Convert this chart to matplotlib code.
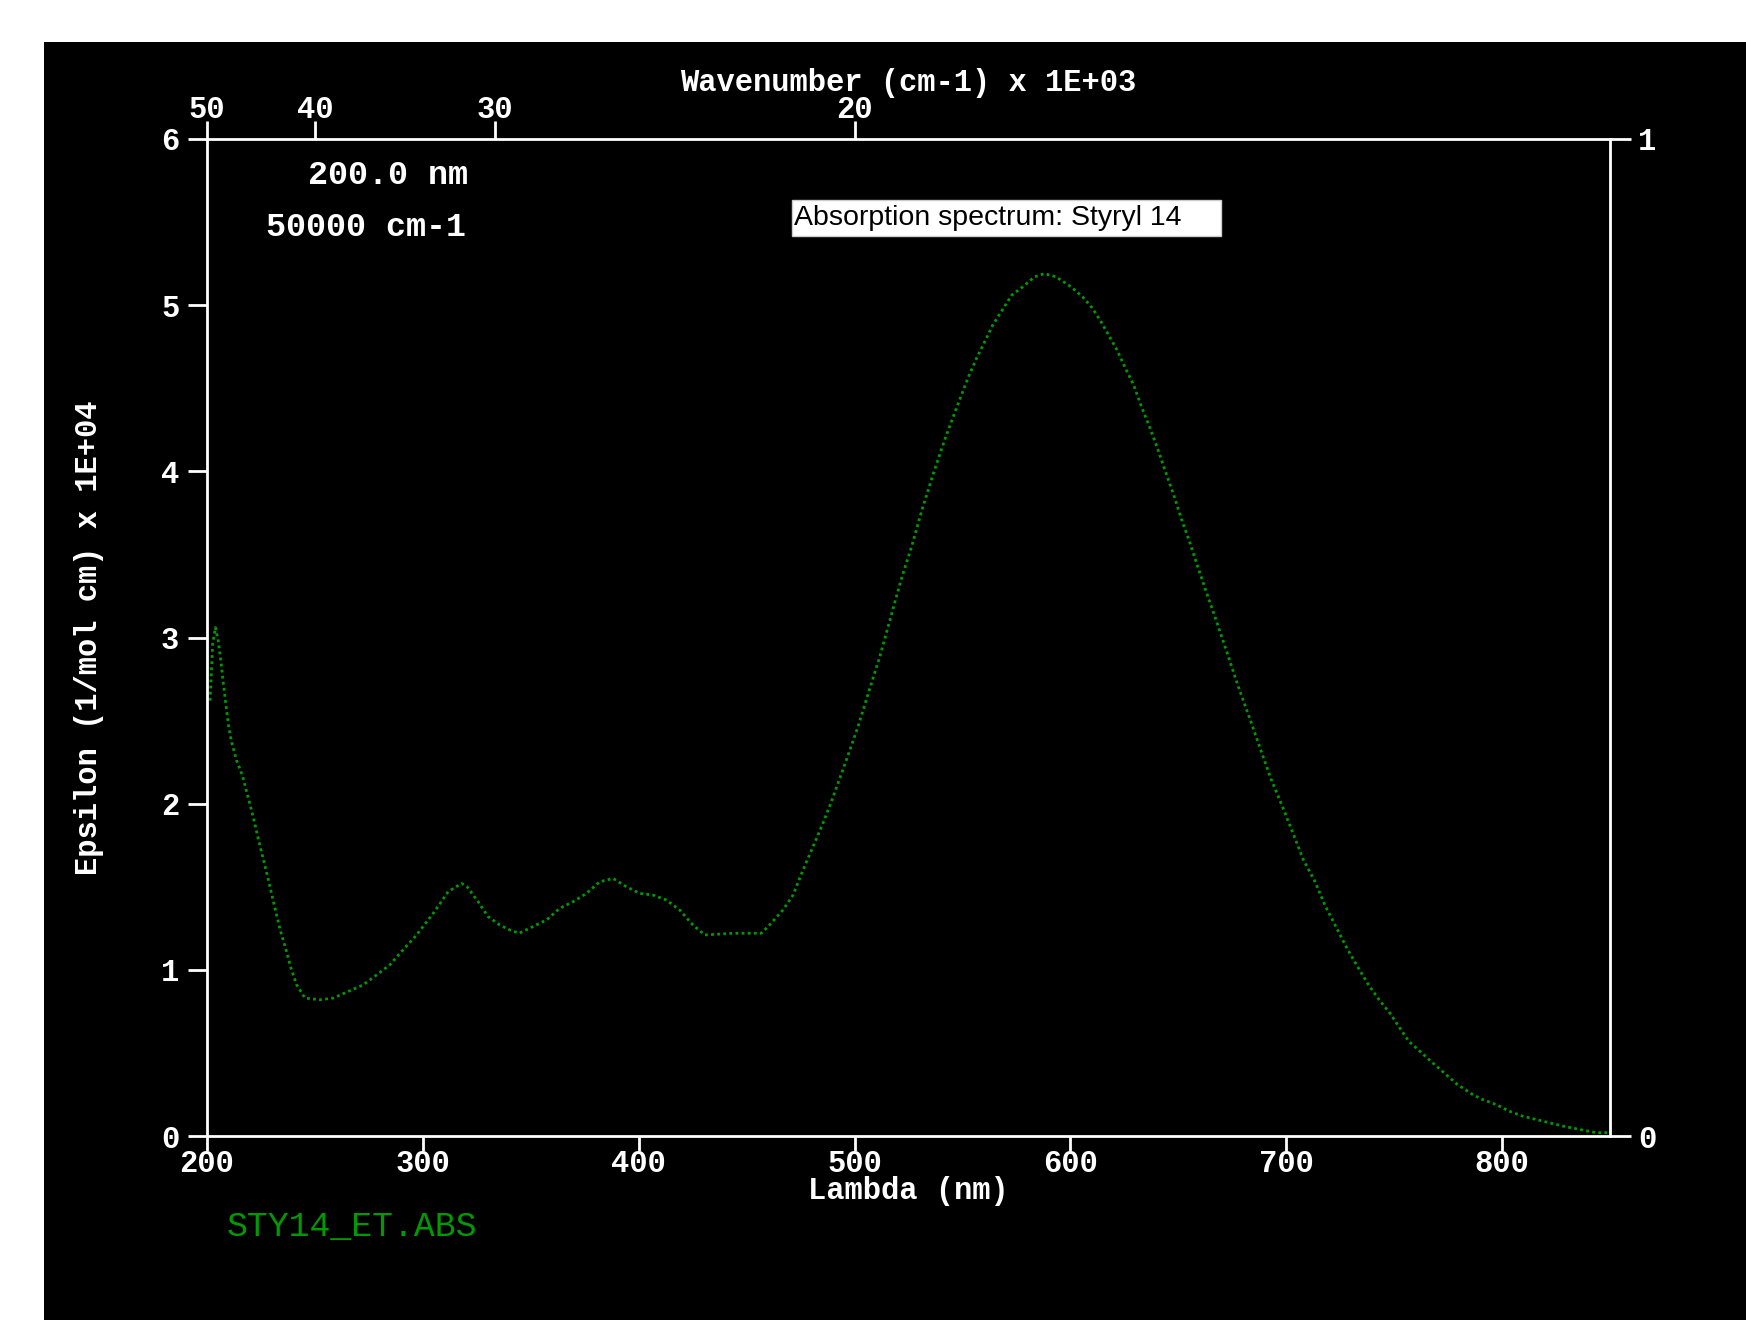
import numpy as np
import matplotlib
matplotlib.use("Agg")
from matplotlib import pyplot as plt
from matplotlib.patches import Rectangle

# absorption spectrum: wavelength (nm), epsilon x 1E+04
wavelength = [201.4, 202.6, 203.9, 205.1, 206.3, 207.6, 208.8, 210.0, 211.2, 213.7,
              216.4, 218.8, 221.4, 223.9, 226.4, 228.8, 231.5, 233.9, 236.4, 238.9,
              241.5, 245.4, 252.3, 258.5, 265.4, 272.4, 278.6, 284.7, 289.4, 297.1,
              304.8, 311.7, 317.9, 320.5, 325.6, 330.2, 335.6, 340.3, 344.6, 351.0,
              357.3, 363.4, 369.6, 375.8, 381.9, 388.1, 394.3, 400.5, 406.6, 412.8,
              419.0, 425.1, 430.6, 443.7, 456.8, 460.6, 466.8, 471.5, 476.1, 480.7,
              485.3, 489.2, 496.4, 501.5, 506.5, 511.6, 516.5, 521.4, 526.5, 531.5,
              536.6, 541.5, 546.6, 552.8, 556.5, 560.3, 564.0, 567.9, 572.8, 577.9,
              583.3, 588.0, 593.4, 600.3, 605.7, 610.3, 614.2, 618.1, 621.6, 625.5,
              629.3, 632.9, 636.6, 640.3, 644.0, 647.8, 651.5, 655.1, 658.9, 662.8,
              667.9, 672.8, 677.9, 682.9, 688.0, 692.9, 698.0, 702.9, 708.0, 713.0,
              717.9, 723.0, 728.1, 733.0, 738.1, 743.0, 748.0, 753.1, 756.8, 761.9,
              767.0, 773.1, 779.3, 786.3, 790.9, 797.1, 803.2, 809.4, 815.6, 821.8,
              828.0, 835.6, 843.4, 848.8]
epsilon = [2.62, 2.96, 3.06, 2.99, 2.87, 2.72, 2.59, 2.47, 2.38, 2.26,
           2.17, 2.05, 1.92, 1.78, 1.65, 1.52, 1.37, 1.24, 1.13, 1.01,
           0.91, 0.83, 0.82, 0.83, 0.87, 0.91, 0.97, 1.03, 1.10, 1.21,
           1.34, 1.47, 1.52, 1.50, 1.41, 1.32, 1.27, 1.24, 1.22, 1.26,
           1.30, 1.37, 1.41, 1.46, 1.53, 1.55, 1.50, 1.46, 1.45, 1.42,
           1.36, 1.27, 1.21, 1.22, 1.22, 1.27, 1.36, 1.45, 1.60, 1.74,
           1.88, 2.01, 2.27, 2.46, 2.67, 2.88, 3.11, 3.34, 3.55, 3.78,
           3.99, 4.18, 4.36, 4.57, 4.68, 4.78, 4.88, 4.96, 5.06, 5.11,
           5.17, 5.19, 5.17, 5.11, 5.05, 4.98, 4.90, 4.81, 4.73, 4.62,
           4.52, 4.39, 4.27, 4.14, 4.00, 3.86, 3.71, 3.58, 3.43, 3.28,
           3.09, 2.90, 2.70, 2.52, 2.33, 2.15, 1.99, 1.83, 1.66, 1.54,
           1.39, 1.26, 1.13, 1.02, 0.91, 0.82, 0.74, 0.64, 0.57, 0.51,
           0.45, 0.38, 0.31, 0.25, 0.22, 0.19, 0.15, 0.12, 0.10, 0.08,
           0.06, 0.04, 0.02, 0.02]

lambda_ticks = [200, 300, 400, 500, 600, 700, 800]
wavenumber_ticks = [50, 40, 30, 20]   # x 1E+03 cm-1
eps_ticks = [0, 1, 2, 3, 4, 5, 6]

green = "#009a00"
mono = ["Liberation Mono", "DejaVu Sans Mono"]
fs = 22

fig = plt.figure(figsize=(17.46, 13.2), dpi=100)
fig.patch.set_facecolor("white")
# black screen area
fig.patches.append(Rectangle((44 / 1746, 0), 1, 1 - 42 / 1320, transform=fig.transFigure,
                             facecolor="black", edgecolor="none", zorder=-10))

ax = fig.add_axes([207 / 1746, 1 - 1136 / 1320, 1403 / 1746, 997 / 1320])
ax.set_facecolor("black")
ax.plot(wavelength, epsilon, color=green, lw=2.0, linestyle=(0, (1, 1.2)))
ax.set_xlim(200, 850)
ax.set_ylim(0, 6)

for s in ax.spines.values():
    s.set_color("white")
    s.set_linewidth(2)

ax.set_xticks(lambda_ticks)
ax.set_yticks(eps_ticks)
ax.tick_params(axis="x", direction="out", length=11, width=2, color="white",
               labelcolor="white", labelsize=fs, pad=-2)
ax.tick_params(axis="y", direction="out", length=14, width=2, color="white",
               labelcolor="white", labelsize=fs, pad=6)
for lab in ax.get_xticklabels() + ax.get_yticklabels():
    lab.set_family(mono)
    lab.set_weight("bold")

ax.set_xlabel("Lambda (nm)", color="white", fontsize=fs, family=mono, weight="bold")
ax.xaxis.set_label_coords(0.5, -40 / 997)
ax.set_ylabel("Epsilon (1/mol cm) x 1E+04", color="white", fontsize=fs, family=mono,
              weight="bold", labelpad=41)

# top axis: wavenumber
top = ax.twiny()
top.set_xlim(ax.get_xlim())
top.set_xticks([1e4 / k for k in wavenumber_ticks])
top.set_xticklabels([str(k) for k in wavenumber_ticks])
top.tick_params(axis="x", direction="out", length=13, width=2, color="white",
                labelcolor="white", labelsize=fs, pad=-3)
for lab in top.get_xticklabels():
    lab.set_family(mono)
    lab.set_weight("bold")
top.set_xlabel("Wavenumber (cm-1) x 1E+03", color="white", fontsize=fs, family=mono,
               weight="bold")
top.xaxis.set_label_coords(0.5, 1 + 48 / 997)
for s in top.spines.values():
    s.set_visible(False)

# right axis 0..1
right = ax.twinx()
right.set_ylim(0, 1)
right.set_yticks([0, 1])
right.tick_params(axis="y", direction="out", length=15, width=2, color="white",
                  labelcolor="white", labelsize=fs, pad=5)
for lab in right.get_yticklabels():
    lab.set_family(mono)
    lab.set_weight("bold")
for s in right.spines.values():
    s.set_visible(False)

# cursor read-out
fig.text(468 / 1746, 1 - 175 / 1320, "200.0 nm", color="white", fontsize=24, family=mono,
         weight="bold", ha="right", va="center")
fig.text(466 / 1746, 1 - 228 / 1320, "50000 cm-1", color="white", fontsize=24, family=mono,
         weight="bold", ha="right", va="center")

# title box
fig.patches.append(Rectangle((792 / 1746, 1 - 236 / 1320), 429 / 1746, 36 / 1320,
                             transform=fig.transFigure, facecolor="white",
                             edgecolor="#cccccc", lw=1, zorder=5))
fig.text(794 / 1746, 1 - 218 / 1320, "Absorption spectrum: Styryl 14", color="black",
         fontsize=20.5, family="Liberation Sans", ha="left", va="center", zorder=6)

fig.text(227 / 1746, 1 - 1227 / 1320, "STY14_ET.ABS", color=green, fontsize=25,
         family=mono, ha="left", va="center")

fig.savefig("out.png", dpi=100, facecolor=fig.get_facecolor())
